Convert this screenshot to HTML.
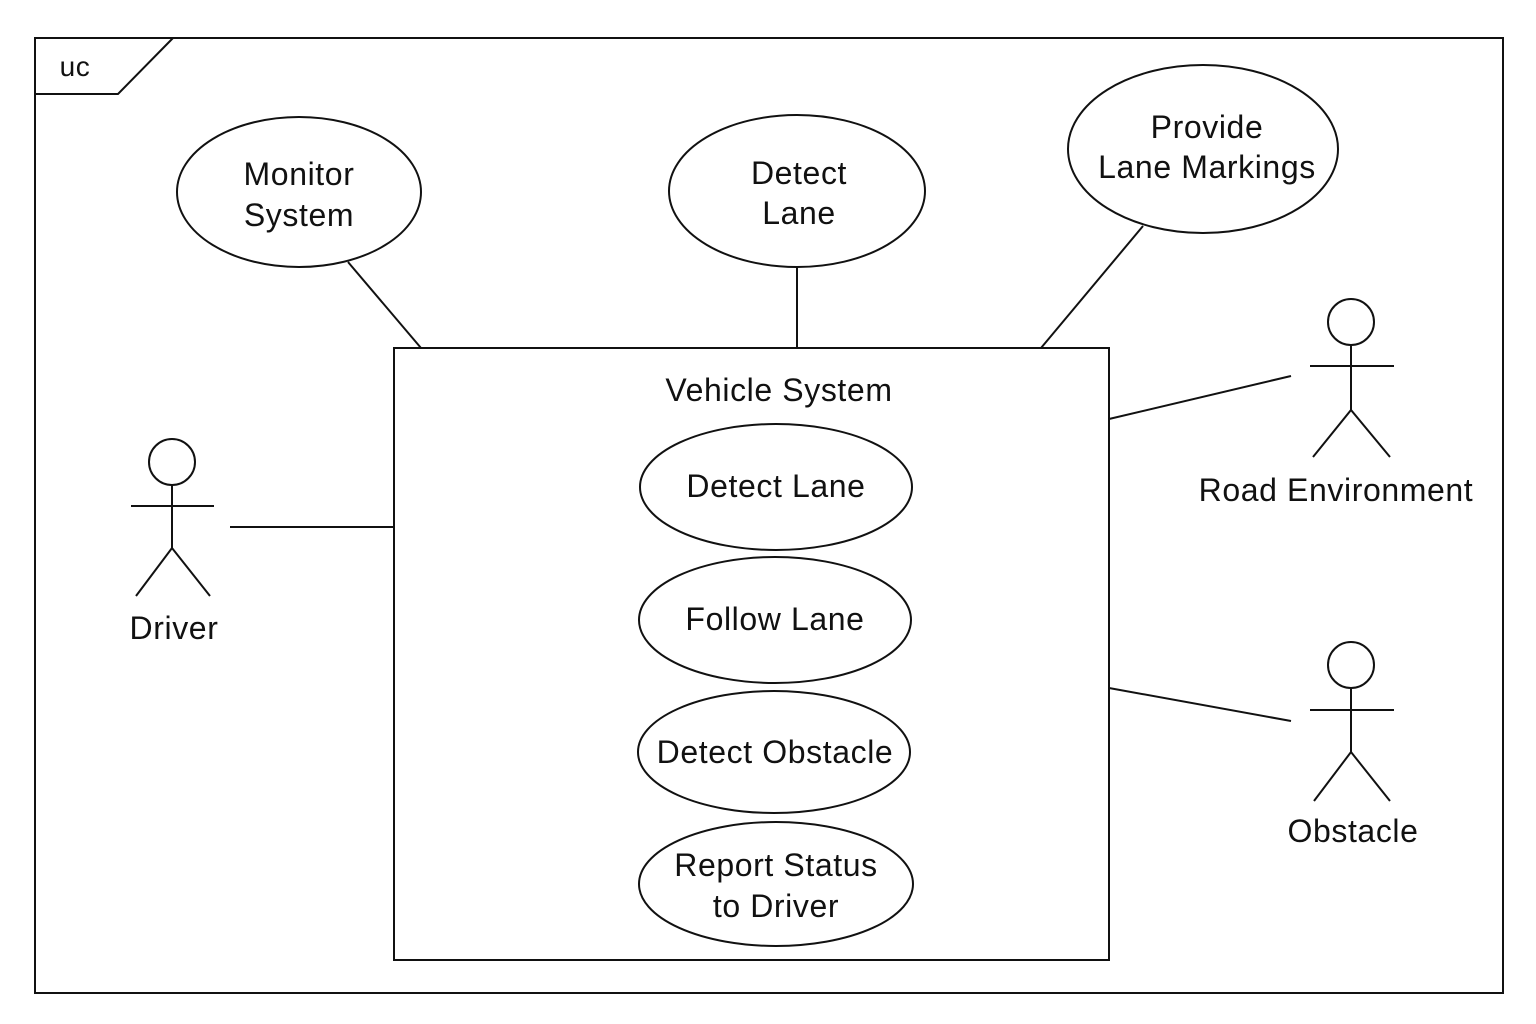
<!DOCTYPE html>
<html><head><meta charset="utf-8"><style>
html,body{margin:0;padding:0;background:#fff;}
svg{display:block;}
text{font-family:"Liberation Sans",sans-serif;fill:#111;text-anchor:middle;letter-spacing:0.6px;}
</style></head><body>
<svg width="1536" height="1024" viewBox="0 0 1536 1024" xmlns="http://www.w3.org/2000/svg">
<g fill="none" stroke="#111" stroke-width="2">
<rect x="35" y="38" width="1468" height="955"/>
<polyline points="35,94 118,94 173,38"/>
<ellipse cx="299" cy="192" rx="122" ry="75"/>
<ellipse cx="797" cy="191" rx="128" ry="76"/>
<ellipse cx="1203" cy="149" rx="135" ry="84"/>
<rect x="394" y="348" width="715" height="612"/>
<ellipse cx="776" cy="487" rx="136" ry="63"/>
<ellipse cx="775" cy="620" rx="136" ry="63"/>
<ellipse cx="774" cy="752" rx="136" ry="61"/>
<ellipse cx="776" cy="884" rx="137" ry="62"/>
<line x1="348" y1="262" x2="421" y2="348"/>
<line x1="797" y1="268" x2="797" y2="348"/>
<line x1="1143" y1="226" x2="1041" y2="348"/>
<line x1="1109" y1="419" x2="1291" y2="376"/>
<line x1="1109" y1="688" x2="1291" y2="721"/>
<line x1="230" y1="527" x2="394" y2="527"/>
<circle cx="172" cy="462" r="23"/>
<line x1="172" y1="485" x2="172" y2="548"/>
<line x1="131" y1="506" x2="214" y2="506"/>
<polyline points="136,596 172,548 210,596"/>
<circle cx="1351" cy="322" r="23"/>
<line x1="1351" y1="345" x2="1351" y2="410"/>
<line x1="1310" y1="366" x2="1394" y2="366"/>
<polyline points="1313,457 1351,410 1390,457"/>
<circle cx="1351" cy="665" r="23"/>
<line x1="1351" y1="688" x2="1351" y2="752"/>
<line x1="1310" y1="710" x2="1394" y2="710"/>
<polyline points="1314,801 1351,752 1390,801"/>
</g>
<g font-size="32">
<text x="75" y="76" font-size="28">uc</text>
<text x="299" y="185">Monitor</text>
<text x="299" y="226">System</text>
<text x="799" y="184">Detect</text>
<text x="799" y="224">Lane</text>
<text x="1207" y="138">Provide</text>
<text x="1207" y="178">Lane Markings</text>
<text x="779" y="401">Vehicle System</text>
<text x="776" y="497">Detect Lane</text>
<text x="775" y="630">Follow Lane</text>
<text x="775" y="763">Detect Obstacle</text>
<text x="776" y="876">Report Status</text>
<text x="776" y="917">to Driver</text>
<text x="174" y="639">Driver</text>
<text x="1336" y="501">Road Environment</text>
<text x="1353" y="842">Obstacle</text>
</g>
</svg>
</body></html>
